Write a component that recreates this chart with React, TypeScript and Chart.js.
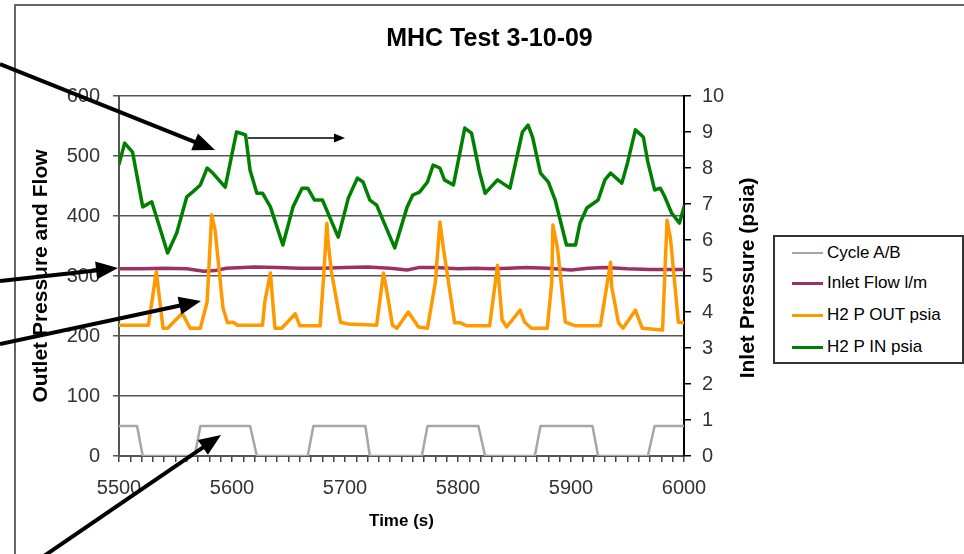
import React, { useEffect, useRef } from 'react';
import { Chart, registerables } from 'chart.js';

Chart.register(...registerables);

const FONT = "'Liberation Sans', Arial, Helvetica, sans-serif";

const chartTitle = 'MHC Test 3-10-09';
const xTitle = 'Time (s)';
const leftTitle = 'Outlet Pressure and Flow';
const rightTitle = 'Inlet Pressure (psia)';

const seriesNames = ['Cycle A/B', 'Inlet Flow l/m', 'H2 P OUT psia', 'H2 P IN psia'];
const seriesColors = ['#A6A6A6', '#993366', '#FF9900', '#008000'];

// Cycle A/B (left axis)
const cycleTimes = [5500, 5516, 5521, 5567, 5572, 5616, 5622, 5667, 5672, 5718, 5722, 5768, 5773, 5818, 5824, 5868, 5873, 5919, 5924, 5968, 5974, 6000];
const cycleValues = [50, 50, 0, 0, 50, 50, 0, 0, 50, 50, 0, 0, 50, 50, 0, 0, 50, 50, 0, 0, 50, 50];

// Inlet Flow l/m (left axis)
const flowTimes = [5500, 5520, 5540, 5560, 5575, 5585, 5595, 5620, 5640, 5660, 5680, 5700, 5720, 5740, 5755, 5765, 5780, 5800, 5815, 5830, 5845, 5860, 5880, 5900, 5915, 5930, 5950, 5970, 5985, 6000];
const flowValues = [312, 312, 313, 312, 308, 309, 313, 315, 314, 313, 313, 314, 315, 313, 310, 314, 314, 312, 313, 312, 313, 314, 313, 310, 313, 314, 312, 311, 311, 311];

// H2 P OUT psia (left axis)
const outTimes = [5500, 5526, 5533, 5539, 5543, 5556, 5563, 5572, 5578, 5582, 5585, 5592, 5596, 5601, 5605, 5627, 5629, 5634, 5638, 5644, 5656, 5660, 5678, 5681, 5684, 5685, 5688, 5696, 5703, 5728, 5734, 5737, 5742, 5746, 5756, 5765, 5773, 5780, 5784, 5787, 5797, 5802, 5808, 5828, 5835, 5839, 5843, 5855, 5859, 5865, 5879, 5883, 5884, 5888, 5895, 5904, 5926, 5935, 5936, 5942, 5946, 5957, 5963, 5981, 5985, 5988, 5995, 6000];
const outValues = [218, 218, 307, 213, 213, 238, 213, 213, 257, 402, 377, 247, 222, 223, 218, 218, 257, 305, 213, 213, 237, 217, 217, 297, 388, 357, 307, 223, 220, 218, 305, 275, 218, 213, 240, 215, 213, 290, 390, 347, 222, 222, 217, 217, 318, 227, 215, 243, 223, 213, 213, 290, 385, 347, 223, 217, 217, 323, 282, 222, 213, 243, 213, 210, 393, 363, 223, 222];

// H2 P IN psia (right axis)
const inTimes = [5500, 5505, 5512, 5521, 5529, 5543, 5551, 5560, 5565, 5572, 5578, 5583, 5594, 5604, 5612, 5616, 5622, 5627, 5634, 5645, 5654, 5662, 5667, 5673, 5680, 5694, 5703, 5711, 5716, 5722, 5728, 5744, 5755, 5760, 5766, 5773, 5778, 5784, 5788, 5796, 5806, 5812, 5819, 5824, 5835, 5846, 5857, 5862, 5866, 5873, 5880, 5886, 5896, 5904, 5908, 5914, 5924, 5930, 5935, 5945, 5950, 5957, 5964, 5968, 5974, 5979, 5983, 5989, 5996, 6000];
const inValues = [8.1, 8.69, 8.44, 6.92, 7.06, 5.64, 6.19, 7.2, 7.33, 7.53, 8.0, 7.86, 7.47, 9.0, 8.92, 7.94, 7.3, 7.3, 6.92, 5.86, 6.92, 7.44, 7.44, 7.11, 7.11, 6.08, 7.17, 7.72, 7.61, 7.11, 6.97, 5.78, 6.92, 7.25, 7.33, 7.61, 8.08, 8.0, 7.67, 7.53, 9.11, 8.97, 7.89, 7.3, 7.67, 7.44, 9.0, 9.19, 8.86, 7.86, 7.61, 7.11, 5.86, 5.86, 6.47, 6.89, 7.11, 7.67, 7.86, 7.58, 8.14, 9.06, 8.86, 8.17, 7.39, 7.44, 7.2, 6.75, 6.47, 6.92];

const xMin = 5500;
const xMax = 6000;
const xStep = 10;
const xLabelStep = 100;
const leftMax = 600;
const leftStep = 100;
const rightMax = 10;
const rightStep = 1;

const pts = (xs: number[], ys: number[]) => xs.map((x, i) => ({ x, y: ys[i] }));

// annotation arrows drawn over the picture: [x1, y1, x2(tip), y2(tip), width, headLen, headHalf]
const arrows: number[][] = [
  [0, 64, 215, 150, 4, 22, 9],
  [248, 138, 345, 138, 1.5, 11, 4.5],
  [0, 281, 118, 268, 4, 22, 9],
  [0, 344, 201, 301, 4, 22, 9],
  [44, 556, 221, 435, 4, 22, 9],
];

function Arrow({ a }: { a: number[] }) {
  const [x1, y1, x2, y2, w, hl, hh] = a;
  const dx = x2 - x1;
  const dy = y2 - y1;
  const len = Math.hypot(dx, dy);
  const ux = dx / len;
  const uy = dy / len;
  const bx = x2 - ux * hl;
  const by = y2 - uy * hl;
  const px = -uy;
  const py = ux;
  const poly = `${x2},${y2} ${bx + px * hh},${by + py * hh} ${bx - px * hh},${by - py * hh}`;
  return (
    <g>
      <line x1={x1} y1={y1} x2={bx + ux * 2} y2={by + uy * 2} stroke="#000" strokeWidth={w} />
      <polygon points={poly} fill="#000" />
    </g>
  );
}

export default function App() {
  const ref = useRef<HTMLCanvasElement | null>(null);

  useEffect(() => {
    if (!ref.current) return;

    const framePlugin = {
      id: 'frame',
      beforeDraw(chart: any) {
        const ctx = chart.ctx;
        ctx.save();
        ctx.fillStyle = '#ffffff';
        ctx.fillRect(0, 0, chart.width, chart.height);
        ctx.strokeStyle = '#666666';
        ctx.lineWidth = 2;
        ctx.strokeRect(15, 5, chart.width + 20, chart.height + 20);
        ctx.restore();
      },
    };

    const rightTitlePlugin = {
      id: 'rightTitle',
      afterDraw(chart: any) {
        const s = chart.scales.y2;
        const ctx = chart.ctx;
        ctx.save();
        ctx.translate(s.left + 64, (chart.chartArea.top + chart.chartArea.bottom) / 2 + 2);
        ctx.rotate(-Math.PI / 2);
        ctx.font = `bold 21px ${FONT}`;
        ctx.fillStyle = '#000';
        ctx.textAlign = 'center';
        ctx.textBaseline = 'middle';
        ctx.fillText(rightTitle, 0, 0);
        ctx.restore();
      },
    };

    const datasets = [
      { label: seriesNames[0], data: pts(cycleTimes, cycleValues), borderColor: seriesColors[0], borderWidth: 2.5, yAxisID: 'y', order: 3 },
      { label: seriesNames[1], data: pts(flowTimes, flowValues), borderColor: seriesColors[1], borderWidth: 3.5, yAxisID: 'y', order: 2 },
      { label: seriesNames[2], data: pts(outTimes, outValues), borderColor: seriesColors[2], borderWidth: 3.5, yAxisID: 'y', order: 1 },
      { label: seriesNames[3], data: pts(inTimes, inValues), borderColor: seriesColors[3], borderWidth: 3.5, yAxisID: 'y2', order: 0 },
    ].map((d) => ({
      ...d,
      pointRadius: 0,
      tension: 0,
      fill: false,
      borderJoinStyle: 'round',
      borderCapStyle: 'round',
      backgroundColor: d.borderColor,
    }));

    const chart = new Chart(ref.current, {
      type: 'line',
      data: { datasets },
      options: {
        animation: false,
        responsive: false,
        devicePixelRatio: 1,
        layout: { padding: { left: 15, right: 0, top: 0, bottom: 0 } },
        plugins: {
          legend: { display: false },
          tooltip: { enabled: false },
          title: {
            display: true,
            text: chartTitle,
            color: '#000',
            font: { family: FONT, size: 25, weight: 'bold', lineHeight: 1.2 },
            padding: { top: 24, bottom: 42 },
          },
        },
        scales: {
          x: {
            type: 'linear',
            min: xMin,
            max: xMax,
            afterFit: (s: any) => { s.height = 98; },
            grid: { drawOnChartArea: false, drawTicks: true, tickLength: 6, color: '#444', lineWidth: 1.5 },
            border: { display: true, color: '#555', width: 2 },
            ticks: {
              stepSize: xStep,
              autoSkip: false,
              maxRotation: 0,
              padding: 14,
              color: '#333',
              font: { family: FONT, size: 20 },
              callback: (v: any) => (Number(v) % xLabelStep === 0 ? String(v) : ''),
            },
            title: {
              display: true,
              text: xTitle,
              color: '#000',
              font: { family: FONT, size: 17, weight: 'bold', lineHeight: 1.2 },
              padding: { top: 0, bottom: 22 },
            },
          },
          y: {
            type: 'linear',
            position: 'left',
            min: 0,
            max: leftMax,
            afterFit: (s: any) => { s.width = 104; },
            grid: { drawOnChartArea: true, drawTicks: true, tickLength: 6, color: '#555', lineWidth: 1.5 },
            border: { display: true, color: '#555', width: 2 },
            ticks: {
              stepSize: leftStep,
              padding: 13,
              color: '#333',
              font: { family: FONT, size: 20 },
            },
            title: {
              display: true,
              text: leftTitle,
              color: '#000',
              font: { family: FONT, size: 21, weight: 'bold', lineHeight: 1.2 },
              padding: { top: 14, bottom: 0 },
            },
          },
          y2: {
            type: 'linear',
            position: 'right',
            min: 0,
            max: rightMax,
            afterFit: (s: any) => { s.width = 280; },
            grid: { drawOnChartArea: false, drawTicks: true, tickLength: 7, color: '#000', lineWidth: 1.5 },
            border: { display: true, color: '#000', width: 2 },
            ticks: {
              stepSize: rightStep,
              padding: 11,
              color: '#333',
              font: { family: FONT, size: 20 },
            },
          },
        },
      },
      plugins: [framePlugin, rightTitlePlugin],
    } as any);

    return () => chart.destroy();
  }, []);

  const legendRows = [16, 46, 78, 110];

  return (
    <div style={{ position: 'absolute', left: 0, top: 0, width: 964, height: 554, overflow: 'hidden', background: '#fff' }}>
      <canvas ref={ref} width={964} height={554} style={{ position: 'absolute', left: 0, top: 0, width: 964, height: 554 }} />
      <div
        style={{
          position: 'absolute',
          left: 773,
          top: 235,
          width: 191,
          height: 129,
          border: '2px solid #333',
          boxSizing: 'border-box',
          background: '#fff',
          fontFamily: FONT,
          fontSize: 17,
          color: '#000',
        }}
      >
        {seriesNames.map((name, i) => (
          <div key={name} style={{ position: 'absolute', left: 0, top: legendRows[i] - 12, height: 24, width: 186 }}>
            <div
              style={{
                position: 'absolute',
                left: 17,
                top: 12 - (i === 0 ? 1 : 1.5),
                width: 31,
                height: i === 0 ? 2 : 3,
                background: seriesColors[i],
              }}
            />
            <div style={{ position: 'absolute', left: 52, top: 0, lineHeight: '24px', whiteSpace: 'nowrap' }}>{name}</div>
          </div>
        ))}
      </div>
      <svg width={964} height={554} style={{ position: 'absolute', left: 0, top: 0, pointerEvents: 'none' }}>
        {arrows.map((a, i) => (
          <Arrow key={i} a={a} />
        ))}
      </svg>
    </div>
  );
}
